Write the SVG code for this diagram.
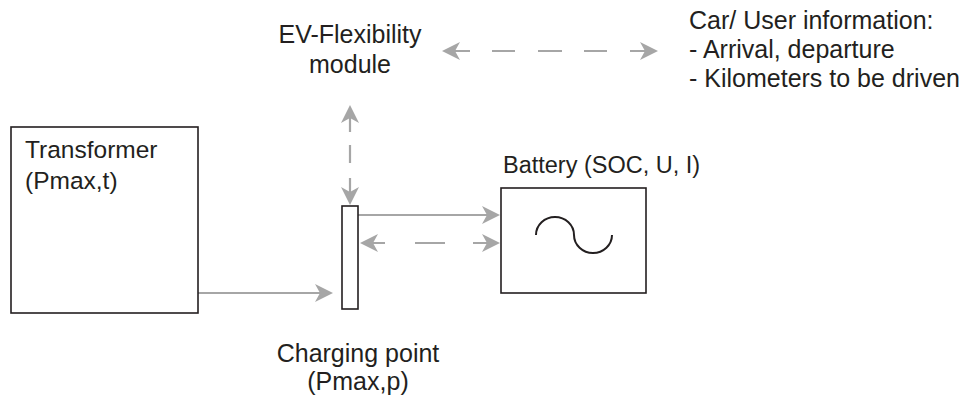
<svg xmlns="http://www.w3.org/2000/svg" width="968" height="396" viewBox="0 0 968 396">
<style>
text{font-family:"Liberation Sans",Arial,sans-serif;font-size:24.5px;fill:#231f20}
.box{fill:#fff;stroke:#231f20;stroke-width:1.6}
.c{fill:none;stroke:#a6a6a6;stroke-width:2.2}
.mid{text-anchor:middle}
</style>
<defs>
<marker id="ah" markerUnits="userSpaceOnUse" viewBox="-12 -12 24 24" markerWidth="24" markerHeight="24" refX="0" refY="0" orient="auto-start-reverse" overflow="visible">
<path d="M10,0 L-8,-9 L-3,0 L-8,9 Z" fill="#a6a6a6"/>
</marker>
</defs>
<rect width="968" height="396" fill="#fff"/>
<g id="connectors">
<path class="c" d="M198 293 H323" marker-end="url(#ah)"/>
<path class="c" d="M358 215 H490" marker-end="url(#ah)"/>
<path class="c" d="M370 243 H385 M415 243 H445 M473 243 H490" marker-start="url(#ah)" marker-end="url(#ah)"/>
<path class="c" d="M350 115 V132 M350 145 V163 M350 178 V195" marker-start="url(#ah)" marker-end="url(#ah)"/>
<path class="c" d="M452 51 H470 M492 51 H515 M538 51 H562 M584 51 H607 M630 51 H648" marker-start="url(#ah)" marker-end="url(#ah)"/>
</g>
<g id="transformer">
<rect class="box" x="11" y="127" width="187" height="186"/>
<text x="25" y="158">Transformer</text>
<text x="25" y="189">(Pmax,t)</text>
</g>
<g id="charging-point">
<rect class="box" x="342" y="206" width="16" height="103"/>
<text class="mid" x="358" y="362" style="font-size:25px">Charging point</text>
<text class="mid" x="358" y="390" style="font-size:25px">(Pmax,p)</text>
</g>
<g id="battery">
<rect class="box" x="501" y="188" width="145" height="105"/>
<path d="M536 235 A19 18 0 0 1 574 235 A19 18 0 0 0 612 235" fill="none" stroke="#231f20" stroke-width="2"/>
<text x="503" y="173" style="font-size:23.5px">Battery (SOC, U, I)</text>
</g>
<g id="ev-flexibility">
<text class="mid" x="350" y="43" style="font-size:25px">EV-Flexibility</text>
<text class="mid" x="350" y="73" style="font-size:25px">module</text>
</g>
<g id="car-info">
<text x="689" y="29" style="font-size:25px">Car/ User information:</text>
<text x="689" y="58" style="font-size:25px">- Arrival, departure</text>
<text x="689" y="87" style="font-size:25px">- Kilometers to be driven</text>
</g>
</svg>
